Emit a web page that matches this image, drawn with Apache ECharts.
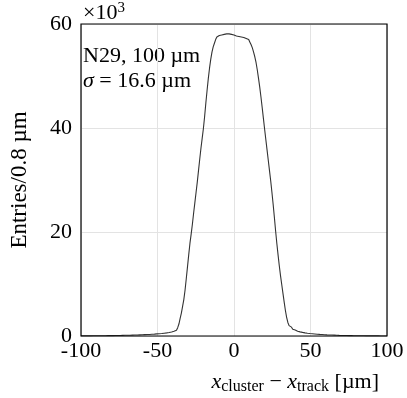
<!DOCTYPE html>
<html><head><meta charset="utf-8">
<script src="https://cdn.jsdelivr.net/npm/echarts@6/dist/echarts.min.js"></script>
<style>html,body{margin:0;padding:0;background:#fff}#c{width:407px;height:398px}</style>
</head><body><div id="c"></div>
<script>
// Histogram: x_cluster - x_track, bin width 0.8 um, from -100 to 100 um (250 bins)
const xMin = -100;
const xMax = 100;
const binWidth = 0.8;
const xTicks = [-100, -50, 0, 50, 100];
const yTicks = [0, 20, 40, 60];
// entries per bin, in units of 10^3
const entries = [
  0.02,0.02,0.02,0.03,0.02,0.03,0.03,0.03,0.03,0.04,
  0.04,0.04,0.04,0.05,0.05,0.05,0.05,0.06,0.06,0.06,
  0.07,0.07,0.07,0.08,0.08,0.08,0.09,0.09,0.10,0.10,
  0.11,0.11,0.12,0.12,0.13,0.13,0.14,0.14,0.15,0.15,
  0.16,0.17,0.17,0.18,0.19,0.20,0.21,0.22,0.23,0.24,
  0.25,0.26,0.27,0.28,0.29,0.30,0.31,0.33,0.34,0.36,
  0.38,0.40,0.42,0.44,0.46,0.48,0.51,0.54,0.57,0.60,
  0.64,0.68,0.72,0.77,0.83,0.90,0.98,1.10,1.30,1.60,
  2.3,3.4,4.4,5.7,7.0,8.8,11.0,13.3,15.6,17.8,
  19.6,21.5,23.6,25.6,27.6,29.6,31.8,34.0,36.1,38.0,
  39.9,42.2,44.8,47.2,49.5,51.5,53.2,54.6,55.6,56.3,
  57.0,57.5,57.8,58.0,57.9,58.1,58.0,58.2,58.1,58.0,
  58.1,57.9,58.0,57.8,57.9,57.9,57.7,57.8,57.6,57.7,
  57.5,57.6,57.4,57.4,57.2,57.2,57.0,56.8,56.5,56.0,
  55.4,54.6,53.7,52.6,51.2,49.6,47.9,46.0,44.0,41.9,
  39.8,37.8,35.8,33.8,31.8,29.8,27.6,25.3,22.8,20.2,
  17.8,15.6,13.5,11.6,9.9,8.2,6.5,4.9,3.6,2.6,
  2.0,1.7,1.5,1.3,1.15,1.0,0.92,0.85,0.79,0.74,
  0.69,0.64,0.60,0.56,0.53,0.50,0.47,0.45,0.43,0.41,
  0.39,0.37,0.35,0.33,0.31,0.29,0.28,0.26,0.25,0.23,
  0.22,0.21,0.20,0.19,0.18,0.17,0.16,0.15,0.14,0.13,
  0.12,0.12,0.11,0.10,0.10,0.09,0.09,0.08,0.08,0.07,
  0.07,0.06,0.06,0.06,0.05,0.05,0.05,0.04,0.04,0.04,
  0.04,0.03,0.03,0.03,0.03,0.03,0.02,0.02,0.02,0.02,
  0.02,0.02,0.02,0.02,0.01,0.01,0.01,0.01,0.01,0.01
];
const labelLines = ['N29, 100 \u00b5m', '{i|\u03c3} = 16.6 \u00b5m'];

// step histogram: points at bin low edges plus final edge
const stepData = entries.map((v, i) => [xMin + i * binWidth, v]);
stepData.push([xMax, entries[entries.length - 1]]);

const FONT = 'Liberation Serif';
const FS = 22;
const chart = echarts.init(document.getElementById('c'), null, {renderer: 'canvas'});
chart.setOption({
  animation: false,
  backgroundColor: '#fff',
  grid: {left: 75, top: 24, width: 312, height: 312, show: true, borderColor: '#000', borderWidth: 1.2, backgroundColor: 'transparent', z: 5},
  xAxis: {
    type: 'value', min: xMin, max: xMax, interval: 50,
    axisLine: {show: false}, axisTick: {show: false},
    splitLine: {show: true, lineStyle: {color: '#e3e3e3', width: 1}},
    axisLabel: {fontFamily: FONT, fontSize: FS, color: '#000', margin: 4,
      formatter: v => xTicks.includes(v) ? String(v) : ''},
    name: '{i|x}{s|cluster} \u2212 {i|x}{s|track} [\u00b5m]',
    nameLocation: 'end', nameGap: 0,
    nameTextStyle: {
      fontFamily: FONT, fontSize: FS, color: '#000', align: 'right', verticalAlign: 'top',
      padding: [33, 8, 0, 0],
      rich: {
        i: {fontFamily: FONT, fontStyle: 'italic', fontSize: FS, color: '#000'},
        s: {fontFamily: FONT, fontSize: 16, color: '#000', padding: [10, 0, 0, 0]}
      }
    }
  },
  yAxis: {
    type: 'value', min: 0, max: 60, interval: 20,
    axisLine: {show: false}, axisTick: {show: false},
    splitLine: {show: true, lineStyle: {color: '#e3e3e3', width: 1}},
    axisLabel: {fontFamily: FONT, fontSize: FS, color: '#000', margin: 9,
      formatter: v => yTicks.includes(v) ? String(v) : ''},
    name: 'Entries/0.8 \u00b5m', nameLocation: 'middle', nameRotate: 90, nameGap: 50,
    nameTextStyle: {fontFamily: FONT, fontSize: 23, color: '#000'}
  },
  series: [{
    type: 'line', data: stepData, step: 'end', showSymbol: false,
    lineStyle: {color: '#333', width: 1.1}, z: 3
  }],
  graphic: [
    {type: 'text', left: 83, top: 1, style: {text: '\u00d710{s|3}', fontFamily: FONT, fontSize: FS, fill: '#000',
      rich: {s: {fontFamily: FONT, fontSize: 15, fill: '#000', padding: [0, 0, 10, 0]}}}},
    {type: 'text', left: 83, top: 45, style: {text: labelLines[0], fontFamily: FONT, fontSize: FS, fill: '#000'}},
    {type: 'text', left: 83, top: 70, style: {text: labelLines[1], fontFamily: FONT, fontSize: FS, fill: '#000',
      rich: {i: {fontFamily: FONT, fontStyle: 'italic', fontSize: FS, fill: '#000'}}}}
  ]
});
</script></body></html>
